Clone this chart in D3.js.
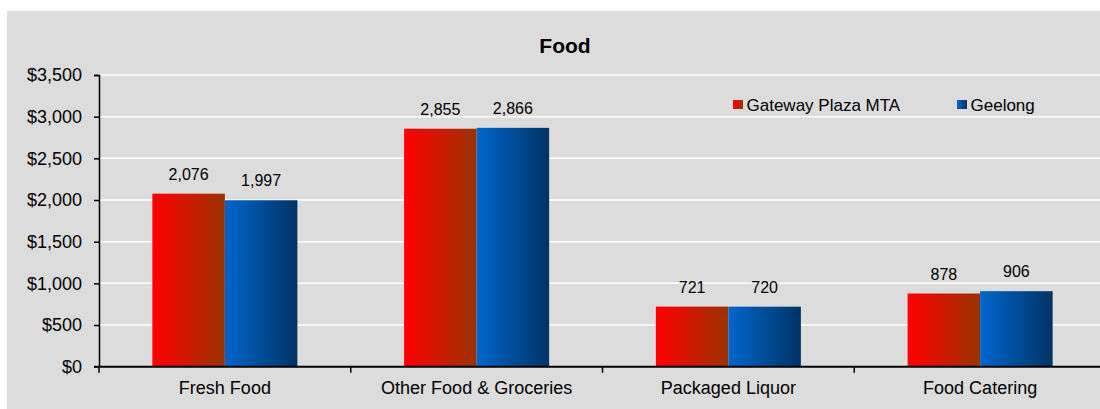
<!DOCTYPE html>
<html><head><meta charset="utf-8">
<script src="https://cdn.jsdelivr.net/npm/d3@7"></script>
<style>body{margin:0;background:#fff}svg{display:block;font-family:"Liberation Sans",Arial,sans-serif}</style>
</head><body><svg id="c" width="1100" height="409"></svg>
<script>
const categories = ["Fresh Food","Other Food & Groceries","Packaged Liquor","Food Catering"];
const seriesNames = ["Gateway Plaza MTA","Geelong"];
const gatewayValues = [2076,2855,721,878];
const geelongValues = [1997,2866,720,906];
const yTicks = [0,500,1000,1500,2000,2500,3000,3500];

const svg = d3.select("#c");
svg.append("rect").attr("x",7).attr("y",11).attr("width",1093).attr("height",398).attr("fill","#dcdcdc");

const defs = svg.append("defs");
const grads = [["gRed","#ff0000","#993300"],["gBlue","#0066cc","#003366"]];
grads.forEach(([id,a,b])=>{
  const g = defs.append("linearGradient").attr("id",id).attr("x1","0").attr("x2","1").attr("y1","0").attr("y2","0");
  g.append("stop").attr("offset","0").attr("stop-color",a);
  g.append("stop").attr("offset","1").attr("stop-color",b);
});

const L=99,R=1106,T=75,B=366.7;
const x = d3.scaleBand().domain(categories).range([L,R]);
const y = d3.scaleLinear().domain([0,3500]).range([B,T]);
const xs = d3.scaleBand().domain([0,1]).range([0,x.bandwidth()]).paddingInner(0).paddingOuter(0.736);

// gridlines
svg.append("g").selectAll("line").data(yTicks.slice(1)).join("line")
  .attr("x1",L).attr("x2",1100).attr("y1",d=>y(d)).attr("y2",d=>y(d))
  .attr("stroke","#fff").attr("stroke-width",1.5);

const data = categories.map((c,i)=>({c, v:[gatewayValues[i],geelongValues[i]]}));
const gcat = svg.append("g").selectAll("g").data(data).join("g").attr("transform",d=>`translate(${x(d.c)},0)`);
gcat.selectAll("rect").data(d=>d.v.map((v,j)=>({v,j}))).join("rect")
  .attr("x",d=>xs(d.j)).attr("width",xs.bandwidth()).attr("y",d=>y(d.v)).attr("height",d=>B-y(d.v))
  .attr("fill",d=>`url(#${grads[d.j][0]})`);
gcat.selectAll("text").data(d=>d.v.map((v,j)=>({v,j}))).join("text")
  .attr("x",d=>xs(d.j)+xs.bandwidth()/2).attr("y",d=>y(d.v)-14)
  .attr("text-anchor","middle").attr("font-size",16).attr("fill","#000")
  .text(d=>d3.format(",")(d.v));

// y axis
const ya = svg.append("g").attr("transform",`translate(${L},0)`)
  .call(d3.axisLeft(y).tickValues(yTicks).tickSize(5).tickPadding(12).tickFormat(d=>"$"+d3.format(",")(d)));
ya.select(".domain").attr("stroke","#000").attr("stroke-width",1.5);
ya.selectAll(".tick line").attr("stroke","#000").attr("stroke-width",1.5);
ya.selectAll("text").attr("font-size",18).attr("fill","#000").attr("font-family","Liberation Sans, Arial, sans-serif");

// x axis
const xa = svg.append("g").attr("transform",`translate(0,${B})`)
  .call(d3.axisBottom(x).tickSize(0).tickPadding(15));
xa.select(".domain").remove();
xa.selectAll("text").attr("font-size",18).attr("fill","#000").attr("font-family","Liberation Sans, Arial, sans-serif");
svg.append("line").attr("x1",L-5).attr("x2",R).attr("y1",B).attr("y2",B).attr("stroke","#000").attr("stroke-width",2);
const bounds = categories.map(c=>x(c)).concat([R]);
svg.append("g").selectAll("line").data(bounds).join("line")
  .attr("x1",d=>d).attr("x2",d=>d).attr("y1",B).attr("y2",B+6).attr("stroke","#000").attr("stroke-width",1.5);

// title
svg.append("text").attr("x",565).attr("y",53).attr("text-anchor","middle")
  .attr("font-size",21).attr("font-weight","bold").text("Food");

// legend
const legX=[733,957];
const lg = svg.append("g").selectAll("g").data(seriesNames).join("g").attr("transform",(d,i)=>`translate(${legX[i]},100)`);
lg.append("rect").attr("width",10).attr("height",9).attr("fill",(d,i)=>`url(#${grads[i][0]})`);
lg.append("text").attr("x",13.5).attr("y",10.7).attr("font-size",17).text(d=>d);
</script></body></html>
